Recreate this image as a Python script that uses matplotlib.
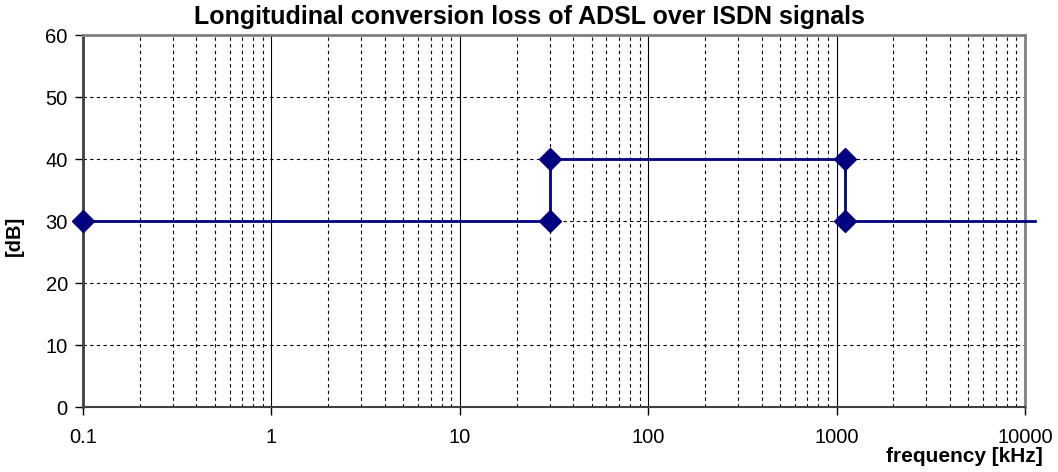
import numpy as np
import matplotlib
matplotlib.use("Agg")
import matplotlib.pyplot as plt
from matplotlib.ticker import LogLocator, FixedLocator, NullFormatter

plt.rcParams['font.family'] = ['Liberation Sans', 'DejaVu Sans']

# step profile: frequency [kHz] vs loss [dB]
freq_khz = [0.1, 30, 30, 1104, 1104, 11300]
loss_db = [30, 30, 40, 40, 30, 30]
marker_idx = [0, 1, 2, 3, 4]  # last point is only the line end

x_ticks = [0.1, 1, 10, 100, 1000, 10000]
x_tick_labels = ["0.1", "1", "10", "100", "1000", "10000"]
y_ticks = [0, 10, 20, 30, 40, 50, 60]

fig = plt.figure(figsize=(10.58, 4.72), dpi=100)
ax = fig.add_axes([0.0785, 0.1377, 0.8903, 0.7881])

ax.set_xscale("log")
ax.set_xlim(0.1, 10000)
ax.set_ylim(0, 60)

ax.plot(freq_khz, loss_db, "-", color="#000080", lw=2, clip_on=False, zorder=3)
ax.plot([freq_khz[i] for i in marker_idx], [loss_db[i] for i in marker_idx],
        "D", color="#000080", markersize=11, clip_on=False, zorder=4)

ax.xaxis.set_major_locator(FixedLocator(x_ticks))
ax.set_xticklabels(x_tick_labels)
ax.xaxis.set_minor_locator(LogLocator(base=10, subs=np.arange(2, 10), numticks=20))
ax.xaxis.set_minor_formatter(NullFormatter())
ax.set_yticks(y_ticks)

ax.grid(which="major", axis="x", color="black", ls="-", lw=0.8)
ax.grid(which="minor", axis="x", color="black", ls=(0, (3, 3)), lw=0.8)
ax.grid(which="major", axis="y", color="black", ls=(0, (3, 3)), lw=0.8)

ax.tick_params(axis="y", which="major", direction="out", length=6, width=1,
               labelsize=14.5, pad=5)
ax.tick_params(axis="x", which="major", direction="out", length=6, width=1,
               labelsize=14.5, pad=9)
ax.tick_params(axis="x", which="minor", length=0)

for side in ["top", "right"]:
    ax.spines[side].set_color("#808080")
    ax.spines[side].set_linewidth(2)
ax.spines["left"].set_color("#404040")
ax.spines["left"].set_linewidth(2)
ax.spines["bottom"].set_color("#404040")
ax.spines["bottom"].set_linewidth(1.5)

fig.text(0.5, 0.99, "Longitudinal conversion loss of ADSL over ISDN signals",
         ha="center", va="top", fontsize=18, fontweight="bold")
fig.text(0.014, 0.5, "[dB]", ha="center", va="center", rotation=90,
         fontsize=14.5, fontweight="bold")
fig.text(0.986, 0.012, "frequency [kHz]", ha="right", va="bottom",
         fontsize=15, fontweight="bold")

fig.savefig("out.png", dpi=100)
